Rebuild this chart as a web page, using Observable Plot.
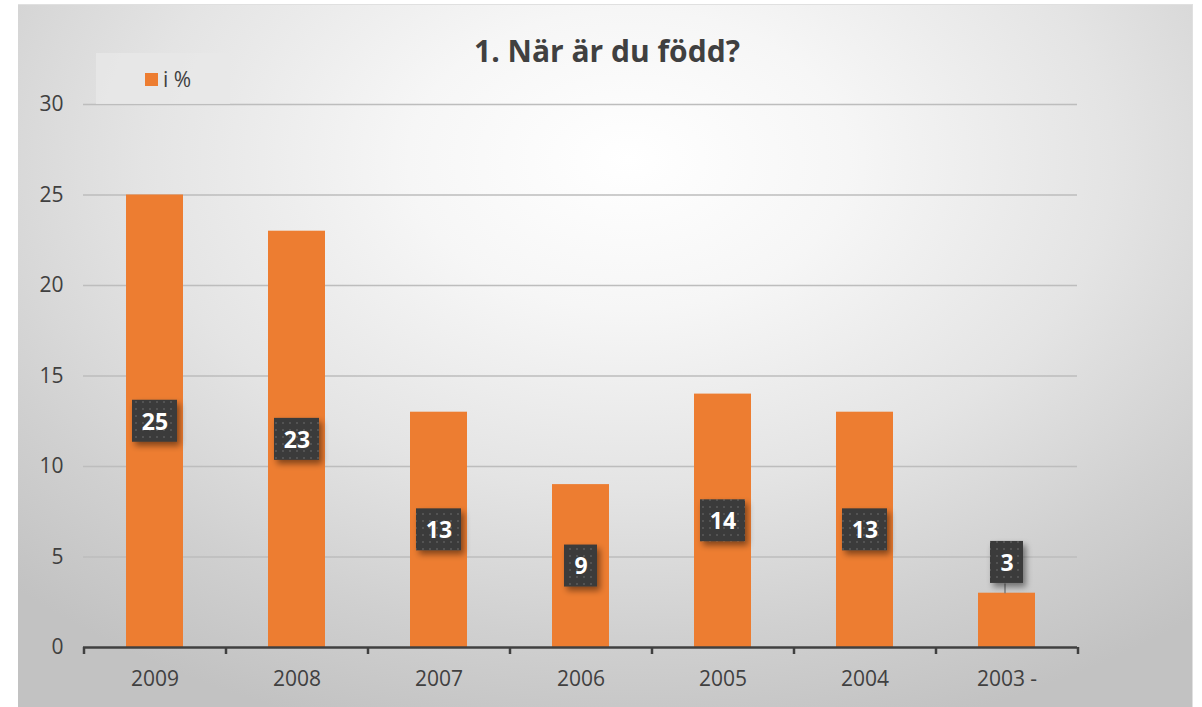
<!DOCTYPE html>
<html><head><meta charset="utf-8">
<script src="https://cdn.jsdelivr.net/npm/d3@7"></script>
<script src="https://cdn.jsdelivr.net/npm/@observablehq/plot@0.6"></script>
<style>
html,body{margin:0;padding:0;background:#fff;}
#frame{position:absolute;left:18px;top:4px;width:1174px;height:703px;
 background:radial-gradient(ellipse 75% 85% at 52% 22%, #ffffff 0%, #f6f6f6 25%, #e4e4e4 55%, #d0d0d0 80%, #c2c2c2 100%);
 border-top:1px solid #e0e0e0;border-right:1px solid #e0e0e0;}
#chart{position:absolute;left:0;top:0;}
#title{position:absolute;left:6px;width:1202px;top:30px;text-align:center;font:bold 30px "Open Sans",sans-serif;color:#404040;}
#legend{position:absolute;left:96px;top:53px;width:134px;height:51px;background:rgba(232,232,232,0.85);}
#legend .sw{position:absolute;left:49px;top:20px;width:13px;height:13px;background:#ED7D31;}
#legend .lb{position:absolute;left:67px;top:12px;font:21px "Open Sans",sans-serif;color:#404040;}
</style></head>
<body>
<div id="frame"></div>
<div id="chart"></div>
<div id="title">1. När är du född?</div>
<div id="legend"><div class="sw"></div><div class="lb">i %</div></div>
<script>
const categories = ["2009","2008","2007","2006","2005","2004","2003 -"];
const values = [25, 23, 13, 9, 14, 13, 3];
const yTicks = [0, 5, 10, 15, 20, 25, 30];
const seriesName = "i %";

const data = categories.map((c, i) => ({cat: c, v: values[i]}));
const W = 1202, H = 707, mL = 83, mR = 125, mT = 104, mB = 60;
const step = (W - mL - mR) / categories.length;
const pxPerUnit = (H - mT - mB) / 30;
const boxH = 42 / pxPerUnit;
// label placement: centered in bar when tall enough, else above with leader line
const labels = data.map(d => {
  const inside = d.v >= 6;
  const yc = inside ? d.v / 2 : d.v + 1.7;
  return {...d, inside, yc, y1: yc - boxH / 2, y2: yc + boxH / 2, wide: String(d.v).length > 1};
});

const chart = Plot.plot({
  width: W, height: H,
  marginLeft: mL, marginRight: mR, marginTop: mT, marginBottom: mB,
  style: {background: "transparent", fontFamily: "Open Sans, sans-serif", color: "#404040"},
  x: {domain: categories, paddingInner: 0.6, paddingOuter: 0.3, label: null, tickSize: 0, tickPadding: 24},
  y: {domain: [0, 30], ticks: yTicks, label: null, tickSize: 0, tickPadding: 20},
  marks: [
    Plot.ruleY(yTicks.filter(t => t > 0), {stroke: "#bdbdbd", strokeWidth: 1.3}),
    Plot.barY(data, {x: "cat", y: "v", fill: "#ED7D31"}),
    Plot.ruleY([0], {stroke: "#404040", strokeWidth: 2.5}),
    Plot.ruleX(data, {x: "cat", dx: -step / 2, y1: 0, y2: -7 / pxPerUnit, stroke: "#404040", strokeWidth: 2.5}),
    Plot.ruleX(data.slice(-1), {x: "cat", dx: step / 2, y1: 0, y2: -7 / pxPerUnit, stroke: "#404040", strokeWidth: 2.5}),
    Plot.link(labels.filter(d => !d.inside), {x1: "cat", x2: "cat", y1: "v", y2: "y1", dx: -2, stroke: "#7f7f7f", strokeWidth: 1.5}),
    Plot.barY(labels.filter(d => d.wide), {x: "cat", y1: "y1", y2: "y2", insetLeft: 6, insetRight: 6, fill: "url(#dots)", className: "lbox"}),
    Plot.barY(labels.filter(d => !d.wide), {x: "cat", y1: "y1", y2: "y2", insetLeft: 12, insetRight: 12, fill: "url(#dots)", className: "lbox"}),
    Plot.text(labels, {x: "cat", y: "yc", text: d => String(d.v), fill: "#ffffff", fontSize: 23, fontWeight: "bold", dy: 1})
  ]
});

document.getElementById("chart").appendChild(chart);
const svg = d3.select(chart);
svg.selectAll("g[aria-label='y-axis tick label'], g[aria-label='x-axis tick label']").attr("font-size", 21).attr("fill", "#404040");
svg.selectAll("g[aria-label='y-axis tick label'] text, g[aria-label='x-axis tick label'] text").attr("font-size", 21).attr("fill", "#404040");
const defs = svg.insert("defs", ":first-child");
const pat = defs.append("pattern").attr("id", "dots").attr("patternUnits", "userSpaceOnUse").attr("width", 7).attr("height", 7);
pat.append("rect").attr("width", 7).attr("height", 7).attr("fill", "#3b3b3b");
pat.append("rect").attr("x", 2).attr("y", 2).attr("width", 2).attr("height", 2).attr("fill", "#525252");
const f = defs.append("filter").attr("id", "shadow").attr("x", "-30%").attr("y", "-30%").attr("width", "170%").attr("height", "170%");
f.append("feDropShadow").attr("dx", 3).attr("dy", 4).attr("stdDeviation", 3).attr("flood-color", "#000").attr("flood-opacity", 0.45);
svg.selectAll(".lbox").attr("filter", "url(#shadow)");
</script>
</body></html>
